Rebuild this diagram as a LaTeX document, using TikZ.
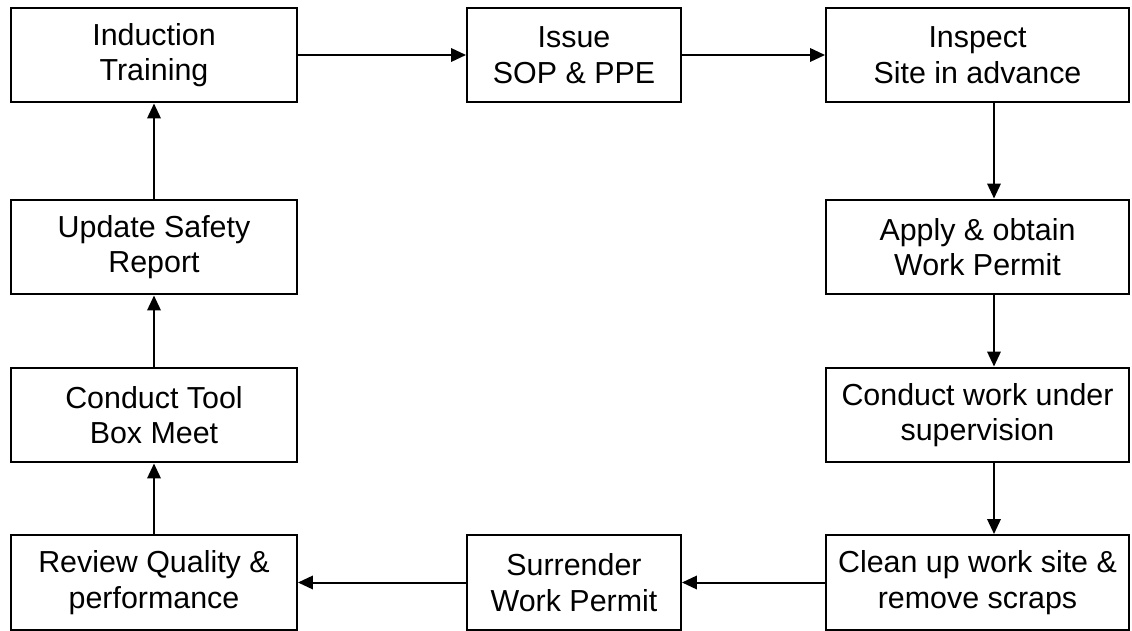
\documentclass[tikz,border=0pt]{standalone}
\usepackage{fontspec}
\setmainfont{Liberation Sans}
\usetikzlibrary{arrows.meta}
\tikzset{
	stepbox/.style={draw, line width=0.04cm, align=center, minimum height=1.9cm, inner sep=0pt, font=\fontsize{17.3}{20.2}\selectfont},
	flow/.style={line width=0.04cm, -{Triangle[length=0.3cm, width=0.27cm]}}
}

\begin{document}
\begin{tikzpicture}[x=0.02cm, y=-0.02cm]
			%%%%% START %%%%%
			
			\useasboundingbox (0, 0) rectangle (1132, 631);
			
			% left column
			\node[stepbox, minimum width=5.72cm] (induct) at (154, 55) {Induction\\Training};
			\node[stepbox, minimum width=5.72cm] (update) at (154, 247) {Update Safety\\Report};
			\node[stepbox, minimum width=5.72cm] (toolbox) at (154, 415) {Conduct Tool\\Box Meet};
			\node[stepbox, minimum width=5.72cm] (review) at (154, 582.5) {Review Quality \&\\performance};
			
			% middle column
			\node[stepbox, minimum width=4.28cm] (issue) at (574, 55) {Issue\\SOP \& PPE};
			\node[stepbox, minimum width=4.28cm] (surrender) at (574, 582.5) {Surrender\\Work Permit};
			
			% right column
			\node[stepbox, minimum width=6.06cm] (inspect) at (977.5, 55) {Inspect\\Site in advance};
			\node[stepbox, minimum width=6.06cm] (permit) at (977.5, 247) {Apply \& obtain\\Work Permit};
			\node[stepbox, minimum width=6.06cm] (work) at (977.5, 415) {Conduct work under\\supervision};
			\node[stepbox, minimum width=6.06cm] (cleanup) at (977.5, 582.5) {Clean up work site \&\\remove scraps};
			
			\draw[flow] (induct) -- (issue);
			\draw[flow] (issue) -- (inspect);
			
			\draw[flow] ([xshift=0.33cm]inspect.south) -- ([xshift=0.33cm]permit.north);
			\draw[flow] ([xshift=0.33cm]permit.south) -- ([xshift=0.33cm]work.north);
			\draw[flow] ([xshift=0.33cm]work.south) -- ([xshift=0.33cm]cleanup.north);
			
			\draw[flow] (cleanup) -- (surrender);
			\draw[flow] (surrender) -- (review);
			
			\draw[flow] (review) -- (toolbox);
			\draw[flow] (toolbox) -- (update);
			\draw[flow] (update) -- (induct);
			
			%%%%% END %%%%%
\end{tikzpicture}
\end{document}
